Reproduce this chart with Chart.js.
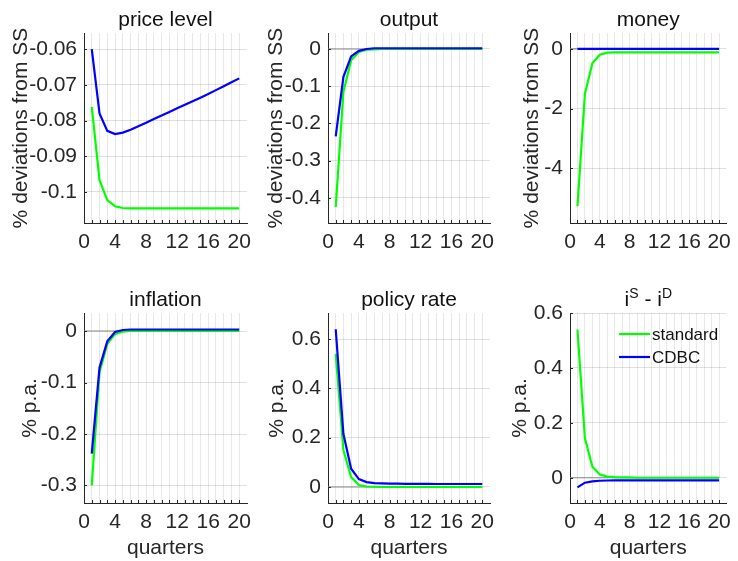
<!DOCTYPE html>
<html>
<head>
<meta charset="utf-8">
<script src="https://cdn.jsdelivr.net/npm/chart.js@4.4.1/dist/chart.umd.min.js"></script>
<style>
  html, body { margin: 0; padding: 0; background: #fff; width: 738px; height: 561px; overflow: hidden; }
  body { position: relative; }
  canvas { position: absolute; }
</style>
</head>
<body>
<canvas id="price" width="259" height="263" style="left:0px;top:0px"></canvas>
<canvas id="output" width="258" height="263" style="left:244px;top:0px"></canvas>
<canvas id="money" width="252" height="263" style="left:486px;top:0px"></canvas>
<canvas id="inflation" width="259" height="281" style="left:0px;top:280px"></canvas>
<canvas id="policy" width="258" height="281" style="left:244px;top:280px"></canvas>
<canvas id="spread" width="252" height="281" style="left:486px;top:280px"></canvas>
<script>
// --- data ---
const quarters = [1, 2, 3, 4, 5, 6, 7, 8, 9, 10, 11, 12, 13, 14, 15, 16, 17, 18, 19, 20];
const xTickLabels = [0, 4, 8, 12, 16, 20];
const seriesNames = ["standard", "CDBC"];

const priceStd  = [-0.0762, -0.0967, -0.1023, -0.1040, -0.1045, -0.1046, -0.1046, -0.1046, -0.1046, -0.1046,
                   -0.1046, -0.1046, -0.1046, -0.1046, -0.1046, -0.1046, -0.1046, -0.1046, -0.1046, -0.1046];
const priceCdbc = [-0.0600, -0.0780, -0.0829, -0.0838, -0.0834, -0.0826, -0.0816, -0.0806, -0.0796, -0.0786,
                   -0.0776, -0.0766, -0.0756, -0.0746, -0.0736, -0.0726, -0.0715, -0.0704, -0.0693, -0.0682];
const priceTicks = [-0.1, -0.09, -0.08, -0.07, -0.06];

const outputStd  = [-0.425, -0.115, -0.030, -0.008, -0.002, -0.001, 0, 0, 0, 0, 0, 0, 0, 0, 0, 0, 0, 0, 0, 0];
const outputCdbc = [-0.235, -0.075, -0.020, -0.005, 0.000, 0.002, 0.002, 0.002, 0.002, 0.002,
                    0.002, 0.002, 0.002, 0.002, 0.002, 0.002, 0.002, 0.002, 0.002, 0.002];
const outputTicks = [-0.4, -0.3, -0.2, -0.1, 0];

const moneyStd  = [-5.27, -1.50, -0.48, -0.20, -0.13, -0.12, -0.12, -0.12, -0.12, -0.12,
                   -0.12, -0.12, -0.12, -0.12, -0.12, -0.12, -0.12, -0.12, -0.12, -0.12];
const moneyCdbc = [0, 0, 0, 0, 0, 0, 0, 0, 0, 0, 0, 0, 0, 0, 0, 0, 0, 0, 0, 0];
const moneyTicks = [-4, -2, 0];

const inflStd  = [-0.300, -0.080, -0.025, -0.006, -0.001, 0, 0, 0, 0, 0, 0, 0, 0, 0, 0, 0, 0, 0, 0, 0];
const inflCdbc = [-0.238, -0.071, -0.020, -0.002, 0.002, 0.003, 0.003, 0.003, 0.003, 0.003,
                  0.003, 0.003, 0.003, 0.003, 0.003, 0.003, 0.003, 0.003, 0.003, 0.003];
const inflTicks = [-0.3, -0.2, -0.1, 0];

const policyStd  = [0.54, 0.15, 0.04, 0.008, 0.002, 0.001, 0, 0, 0, 0, 0, 0, 0, 0, 0, 0, 0, 0, 0, 0];
const policyCdbc = [0.64, 0.215, 0.074, 0.032, 0.020, 0.016, 0.015, 0.014, 0.014, 0.013,
                    0.013, 0.013, 0.013, 0.012, 0.012, 0.012, 0.012, 0.012, 0.012, 0.012];
const policyTicks = [0, 0.2, 0.4, 0.6];

const spreadStd  = [0.54, 0.144, 0.040, 0.012, 0.004, 0.002, 0.001, 0.001, 0, 0, 0, 0, 0, 0, 0, 0, 0, 0, 0, 0];
const spreadCdbc = [-0.035, -0.018, -0.013, -0.011, -0.010, -0.0095, -0.0095, -0.0095, -0.0095, -0.0095,
                    -0.0095, -0.0095, -0.0095, -0.0095, -0.0095, -0.0095, -0.0095, -0.0095, -0.0095, -0.0095];
const spreadTicks = [0, 0.2, 0.4, 0.6];

// --- look ---
const FONT = "'Liberation Sans', Arial, Helvetica, sans-serif";
const INK = "#262626";
const GREEN = "#00ff00";
const BLUE = "#0000ff";
Chart.defaults.font.family = FONT;
Chart.defaults.color = INK;

const panels = [
  { id: "price", title: [{ t: "price level" }], yLabel: "% deviations from SS", yMin: -0.1087, yMax: -0.0555,
    yTicks: priceTicks, std: priceStd, cdbc: priceCdbc, zero: false, bottomRow: false, yPad: 9, rightPad: 12 },
  { id: "output", title: [{ t: "output" }], yLabel: "% deviations from SS", yMin: -0.468, yMax: 0.043,
    yTicks: outputTicks, std: outputStd, cdbc: outputCdbc, zero: true, bottomRow: false, yPad: 20, rightPad: 12 },
  { id: "money", title: [{ t: "money" }], yLabel: "% deviations from SS", yMin: -5.83, yMax: 0.53,
    yTicks: moneyTicks, std: moneyStd, cdbc: moneyCdbc, zero: true, bottomRow: false, yPad: 34, rightPad: 5 },
  { id: "inflation", title: [{ t: "inflation" }], yLabel: "% p.a.", yMin: -0.334, yMax: 0.035,
    yTicks: inflTicks, std: inflStd, cdbc: inflCdbc, zero: true, bottomRow: true, yPad: 18, rightPad: 12 },
  { id: "policy", title: [{ t: "policy rate" }], yLabel: "% p.a.", yMin: -0.065, yMax: 0.706,
    yTicks: policyTicks, std: policyStd, cdbc: policyCdbc, zero: true, bottomRow: true, yPad: 21, rightPad: 12 },
  { id: "spread", title: [{ t: "i" }, { t: "S", sup: true }, { t: " - i" }, { t: "D", sup: true }], yLabel: "% p.a.",
    yMin: -0.092, yMax: 0.6, yTicks: spreadTicks, std: spreadStd, cdbc: spreadCdbc, zero: true, bottomRow: true,
    yPad: 22, rightPad: 5, legend: true },
];

// --- plugins ---
const panelTitle = {
  id: "panelTitle",
  afterDraw(chart, args, opts) {
    const { ctx, chartArea: a } = chart;
    const parts = opts.parts || [];
    const main = "21px " + FONT, sup = "14px " + FONT;
    ctx.save();
    let w = 0;
    parts.forEach((p) => { ctx.font = p.sup ? sup : main; w += ctx.measureText(p.t).width; });
    let x = (a.left + a.right) / 2 - w / 2;
    const base = a.top - 7.5;
    ctx.fillStyle = "#111";
    ctx.textBaseline = "alphabetic";
    ctx.textAlign = "left";
    parts.forEach((p) => {
      ctx.font = p.sup ? sup : main;
      ctx.fillText(p.t, x, p.sup ? base - 8 : base);
      x += ctx.measureText(p.t).width;
    });
    ctx.restore();
  },
};

const innerTicks = {
  id: "innerTicks",
  afterDraw(chart) {
    const { ctx, chartArea: a, scales } = chart;
    ctx.save();
    ctx.strokeStyle = INK;
    ctx.lineWidth = 1;
    ctx.beginPath();
    scales.x.ticks.forEach((t) => {
      const px = Math.round(scales.x.getPixelForValue(t.value)) + 0.5;
      ctx.moveTo(px, a.bottom);
      ctx.lineTo(px, a.bottom - 3);
    });
    scales.y.ticks.forEach((t) => {
      const py = Math.round(scales.y.getPixelForValue(t.value)) + 0.5;
      ctx.moveTo(a.left, py);
      ctx.lineTo(a.left + 3, py);
    });
    ctx.stroke();
    ctx.restore();
  },
};

const boxLegend = {
  id: "boxLegend",
  afterDraw(chart, args, opts) {
    if (!opts.show) return;
    const { ctx, chartArea: a } = chart;
    const items = [
      { label: seriesNames[0], color: GREEN },
      { label: seriesNames[1], color: BLUE },
    ];
    ctx.save();
    ctx.font = "17px " + FONT;
    ctx.textBaseline = "middle";
    ctx.textAlign = "left";
    items.forEach((it, i) => {
      const y = a.top + 21 + i * 23;
      const x0 = a.left + 49;
      ctx.strokeStyle = it.color;
      ctx.lineWidth = 2.2;
      ctx.beginPath();
      ctx.moveTo(x0, y);
      ctx.lineTo(x0 + 31, y);
      ctx.stroke();
      ctx.fillStyle = "#111";
      ctx.fillText(it.label, x0 + 33, y + 1);
    });
    ctx.restore();
  },
};

function pairs(ys) {
  return quarters.map((q, i) => ({ x: q, y: ys[i] }));
}

function makeChart(p) {
  const datasets = [
    { label: seriesNames[1], data: pairs(p.cdbc), borderColor: BLUE, borderWidth: 2.2 },
    { label: seriesNames[0], data: pairs(p.std), borderColor: GREEN, borderWidth: 2.2 },
  ];
  if (p.zero) {
    datasets.push({
      label: "zero",
      data: [{ x: 0, y: 0 }, { x: quarters[quarters.length - 1], y: 0 }],
      borderColor: "#8a8a8a",
      borderWidth: 1.2,
    });
  }
  datasets.forEach((d) => { d.pointRadius = 0; d.fill = false; d.tension = 0; });

  return new Chart(document.getElementById(p.id), {
    type: "line",
    data: { datasets },
    options: {
      responsive: false,
      animation: false,
      devicePixelRatio: 1,
      layout: { padding: { top: 33, right: p.rightPad, left: 0, bottom: 0 } },
      plugins: {
        legend: { display: false },
        tooltip: { enabled: false },
        panelTitle: { parts: p.title },
        boxLegend: { show: !!p.legend },
      },
      scales: {
        x: {
          type: "linear",
          min: 0,
          max: 21,
          afterBuildTicks: (s) => { s.ticks = [0, ...quarters].map((v) => ({ value: v })); },
          afterFit: (s) => { s.height = p.bottomRow ? 58 : 40; },
          ticks: {
            autoSkip: false,
            maxRotation: 0,
            padding: 7,
            font: { size: 21 },
            color: INK,
            callback: (v) => (xTickLabels.includes(v) ? String(v) : ""),
          },
          grid: { color: "rgba(0,0,0,0.09)", drawTicks: false },
          border: { display: true, color: INK, width: 1 },
          title: {
            display: p.bottomRow,
            text: "quarters",
            font: { size: 21 },
            color: INK,
            padding: { top: 0, bottom: 0 },
          },
        },
        y: {
          type: "linear",
          min: p.yMin,
          max: p.yMax,
          afterBuildTicks: (s) => { s.ticks = p.yTicks.map((v) => ({ value: v })); },
          afterFit: (s) => { s.width = 84; },
          ticks: {
            padding: 7,
            font: { size: 21 },
            color: INK,
            callback: (v) => String(v),
          },
          grid: { color: "rgba(0,0,0,0.12)", drawTicks: false },
          border: { display: true, color: INK, width: 1 },
          title: {
            display: true,
            text: p.yLabel,
            font: { size: 21 },
            color: INK,
            padding: { top: p.yPad, bottom: 0 },
          },
        },
      },
    },
    plugins: [panelTitle, innerTicks, boxLegend],
  });
}

panels.forEach(makeChart);
</script>
</body>
</html>
